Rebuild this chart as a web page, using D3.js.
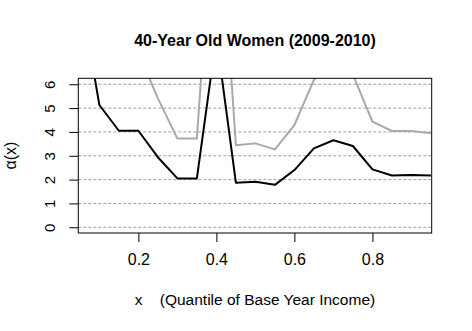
<!DOCTYPE html>
<html>
<head>
<meta charset="utf-8">
<script src="https://cdn.jsdelivr.net/npm/d3@7"></script>
<style>
  body { margin: 0; background: #fff; }
  text { font-family: "Liberation Sans", Arial, sans-serif; }
</style>
</head>
<body>
<div id="chart"></div>
<script>
// quantile grid and the two alpha(x) curves
let xs = [0.05, 0.10, 0.15, 0.20, 0.25, 0.30, 0.35, 0.40, 0.45, 0.50,
          0.55, 0.60, 0.65, 0.70, 0.75, 0.80, 0.85, 0.90, 0.95];
let blackVals = [9.9, 5.13, 4.05, 4.05, 2.94, 2.05, 2.05, 8.0, 1.87, 1.91,
                 1.78, 2.40, 3.31, 3.65, 3.41, 2.43, 2.17, 2.19, 2.17];
let grayVals = [12.0, 9.5, 8.5, 7.34, 5.41, 3.72, 3.72, 15.5, 3.44, 3.52,
                3.27, 4.29, 6.18, 7.0, 6.4, 4.43, 4.04, 4.04, 3.94];
let xTicks = [0.2, 0.4, 0.6, 0.8];
let yTicks = [0, 1, 2, 3, 4, 5, 6];

let w = 472, h = 331;
let m = {top: 78.3, right: 40.3, bottom: 98, left: 78.3};

let svg = d3.select("#chart")
  .append("svg")
  .attr("width", w)
  .attr("height", h);

let x = d3.scaleLinear().domain([0.046, 0.952]).range([m.left, w - m.right]);
let y = d3.scaleLinear().domain([-0.24, 6.25]).range([h - m.bottom, m.top]);

svg.append("clipPath").attr("id", "clip")
  .append("rect")
  .attr("x", m.left).attr("y", m.top)
  .attr("width", w - m.right - m.left)
  .attr("height", h - m.bottom - m.top);

// dashed grid lines
svg.selectAll(".grid")
  .data(yTicks)
  .enter()
  .append("line")
  .attr("x1", m.left).attr("x2", w - m.right)
  .attr("y1", d => y(d)).attr("y2", d => y(d))
  .attr("stroke", "#a0a0a0")
  .attr("stroke-dasharray", "3,2")
  .attr("stroke-width", 1);

let line = d3.line().x((d, i) => x(xs[i])).y(d => y(d));

let plot = svg.append("g").attr("clip-path", "url(#clip)");

plot.append("path")
  .datum(grayVals)
  .attr("d", line)
  .attr("fill", "none")
  .attr("stroke", "#a9a9a9")
  .attr("stroke-width", 2)
  .attr("stroke-linejoin", "round");

plot.append("path")
  .datum(blackVals)
  .attr("d", line)
  .attr("fill", "none")
  .attr("stroke", "#000")
  .attr("stroke-width", 2)
  .attr("stroke-linejoin", "round");

// box
svg.append("rect")
  .attr("x", m.left).attr("y", m.top)
  .attr("width", w - m.right - m.left)
  .attr("height", h - m.bottom - m.top)
  .attr("fill", "none")
  .attr("stroke", "#000")
  .attr("stroke-width", 1);

// x axis
let xAxis = svg.append("g")
  .attr("transform", "translate(0," + (h - m.bottom) + ")")
  .call(d3.axisBottom(x).tickValues(xTicks).tickSize(9).tickPadding(12).tickFormat(d3.format(".1f")));
xAxis.select(".domain").remove();
xAxis.selectAll("text").attr("font-size", "16px").attr("fill", "#000")
  .style("font-family", "Liberation Sans, Arial, sans-serif");

// y axis
let yAxis = svg.append("g")
  .attr("transform", "translate(" + m.left + ",0)")
  .call(d3.axisLeft(y).tickValues(yTicks).tickSize(9).tickFormat(d3.format("d")));
yAxis.select(".domain").remove();
yAxis.selectAll("text")
  .attr("font-size", "15px").attr("fill", "#000")
  .style("font-family", "Liberation Sans, Arial, sans-serif")
  .attr("text-anchor", "middle")
  .attr("x", null)
  .attr("transform", "translate(-23,0) rotate(-90)")
  .attr("y", 0)
  .attr("dy", "0");

// title
svg.append("text")
  .attr("x", (m.left + w - m.right) / 2)
  .attr("y", 46)
  .attr("text-anchor", "middle")
  .attr("font-weight", "bold")
  .attr("font-size", "16px")
  .text("40-Year Old Women (2009-2010)");

// x label
svg.append("text")
  .attr("x", (m.left + w - m.right) / 2)
  .attr("y", 305)
  .attr("text-anchor", "middle")
  .attr("font-size", "15.5px")
  .style("white-space", "pre")
  .text("x    (Quantile of Base Year Income)");

// y label
svg.append("text")
  .attr("transform", "translate(16," + ((m.top + h - m.bottom) / 2) + ") rotate(-90)")
  .attr("text-anchor", "middle")
  .attr("font-size", "16px")
  .text("\u03b1(x)");
</script>
</body>
</html>
